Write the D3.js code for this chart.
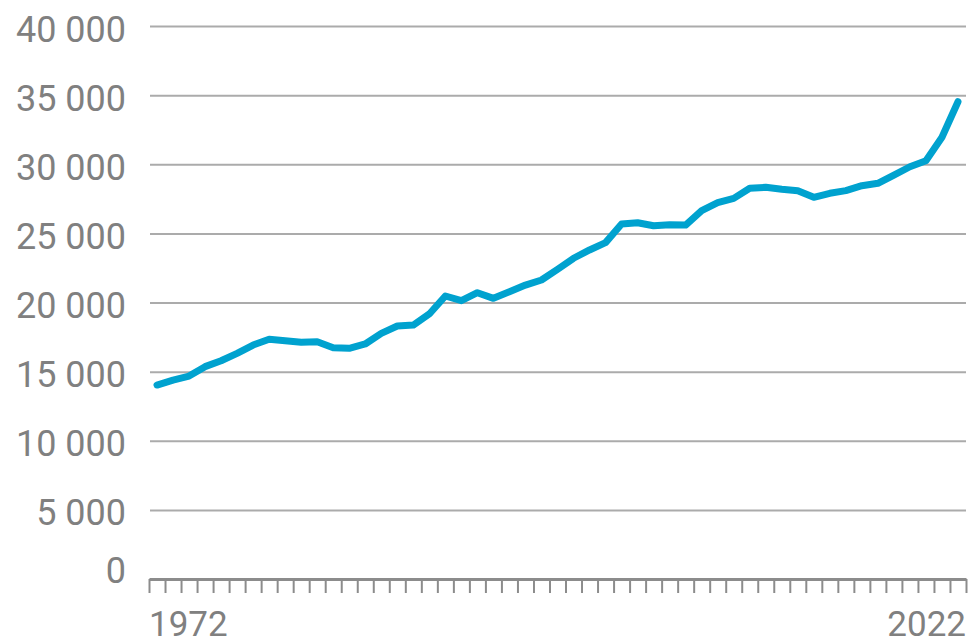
<!DOCTYPE html>
<html>
<head>
<meta charset="utf-8">
<script src="https://cdn.jsdelivr.net/npm/d3@7"></script>
<style>
  body { margin: 0; background: #fff; }
  svg { display: block; font-family: Roboto, "Liberation Sans", sans-serif; }
</style>
</head>
<body>
<svg id="chart"></svg>
<script>
// one value per year, 1972 - 2022
var years = d3.range(1972, 2023)
var values = [14030, 14390, 14680, 15360, 15790, 16320, 16920, 17340, 17240, 17120,
              17160, 16730, 16690, 17000, 17770, 18300, 18370, 19170, 20470, 20130,
              20710, 20300, 20780, 21260, 21630, 22400, 23200, 23800, 24330, 25680,
              25770, 25550, 25630, 25600, 26640, 27220, 27530, 28260, 28330, 28190,
              28090, 27610, 27900, 28090, 28450, 28620, 29220, 29820, 30250, 31950,
              34520]
var yTicks = [0, 5000, 10000, 15000, 20000, 25000, 30000, 35000, 40000]
var xLabels = [1972, 2022]

var screen = {width: 971, height: 644}
var margins = {left: 149, right: 5, top: 26, bottom: 65}

var svg = d3.select("#chart")
    .attr("width", screen.width)
    .attr("height", screen.height)

var fmt = d3.formatLocale({decimal: ",", thousands: " ", grouping: [3], currency: ["", ""]}).format(",d")

var xScale = d3.scaleBand()
    .domain(years)
    .range([margins.left, screen.width - margins.right])

// edges of the year bands, for the tick marks
var xEdge = d3.scaleLinear()
    .domain([1972, 2023])
    .range([margins.left, screen.width - margins.right])

var yScale = d3.scaleLinear()
    .domain([0, 40000])
    .range([screen.height - margins.bottom, margins.top])

// grid + y labels
var yAxis = d3.axisLeft(yScale)
    .tickValues(yTicks)
    .tickSize(-(screen.width - margins.right - margins.left - 1))
    .tickFormat(fmt)
svg.append("g")
    .attr("class", "yaxis")
    .attr("transform", "translate(" + (margins.left + 1) + ",0)")
    .call(yAxis)
    .call(function(g) {
        g.select(".domain").remove()
        g.selectAll("line").attr("stroke", "#ababab").attr("stroke-width", 2)
        g.selectAll("text")
            .attr("x", -24)
            .attr("dy", null)
            .attr("y", function(d) { return d == 0 ? 3 : 15 })
            .attr("fill", "#808080")
            .attr("font-size", 36)
            .attr("font-family", "Roboto, 'Liberation Sans', sans-serif")
    })

// x axis with a tick at every year boundary
var xAxis = d3.axisBottom(xEdge)
    .tickValues(d3.range(1972, 2024))
    .tickSize(14)
    .tickSizeOuter(0)
    .tickFormat("")
svg.append("g")
    .attr("class", "xaxis")
    .attr("transform", "translate(0," + (screen.height - margins.bottom) + ")")
    .call(xAxis)
    .call(function(g) {
        g.select(".domain").attr("stroke", "#8c8c8c").attr("stroke-width", 3)
        g.selectAll(".tick line").attr("stroke", "#8c8c8c").attr("stroke-width", 2)
    })

svg.append("g")
    .selectAll("text")
    .data(xLabels)
    .enter()
    .append("text")
    .attr("x", function(d, i) { return i == 0 ? xEdge(d) : xEdge(d + 1) })
    .attr("y", 636)
    .attr("text-anchor", function(d, i) { return i == 0 ? "start" : "end" })
    .attr("fill", "#808080")
    .attr("font-size", 35)
    .text(function(d) { return d })

var line = d3.line()
    .x(function(d, i) { return xScale(years[i]) + xScale.bandwidth() / 2 })
    .y(function(d) { return yScale(d) })

svg.append("path")
    .datum(values)
    .attr("d", line)
    .attr("fill", "none")
    .attr("stroke", "#00a2cf")
    .attr("stroke-width", 7)
    .attr("stroke-linejoin", "round")
    .attr("stroke-linecap", "round")
</script>
</body>
</html>
